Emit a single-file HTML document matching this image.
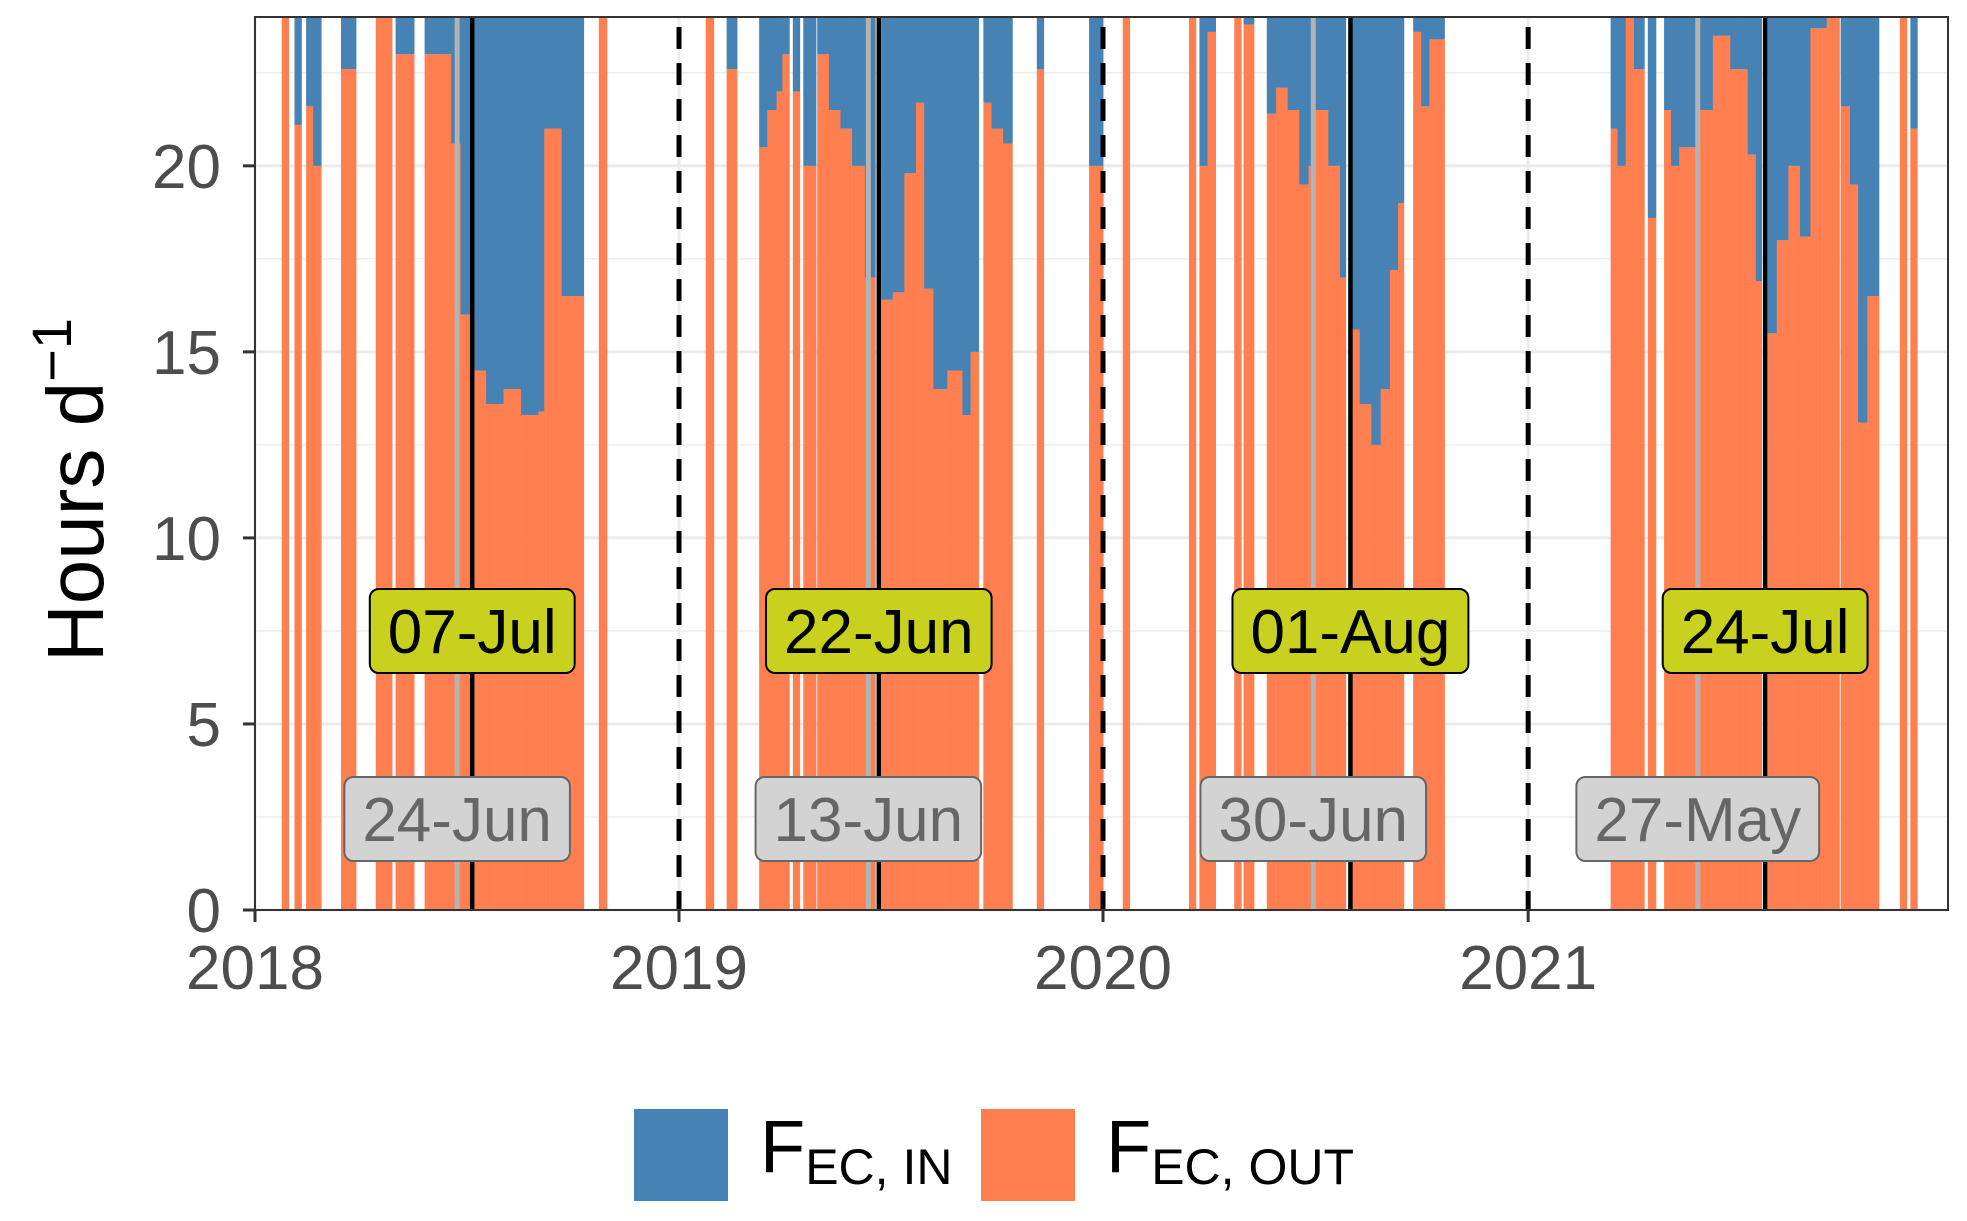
<!DOCTYPE html>
<html><head><meta charset="utf-8"><style>
html,body{margin:0;padding:0;background:#fff;}
svg{display:block;font-family:"Liberation Sans",sans-serif;}
</style></head><body>
<svg id="chart" width="1967" height="1221" viewBox="0 0 1967 1221" xmlns="http://www.w3.org/2000/svg">
<g id="grid"></g>
<g id="bars"></g>
<g id="vlines"></g>
<g id="labels"></g>
<rect x="255" y="17" width="1693" height="893" fill="none" stroke="#333" stroke-width="2"/>
<g id="axes"></g>
<text transform="translate(103,490) rotate(-90)" text-anchor="middle" font-size="80" fill="#000">Hours d<tspan dy="-32" font-size="56">−1</tspan></text>
<g>
<rect x="634" y="1109" width="94" height="92" fill="#4682b4"/>
<text x="760" y="1172" font-size="74" fill="#000">F<tspan dy="12" font-size="50">EC, IN</tspan></text>
<rect x="981" y="1109" width="94" height="92" fill="#ff7f50"/>
<text x="1106" y="1172" font-size="74" fill="#000">F<tspan dy="12" font-size="50">EC, OUT</tspan></text>
</g>
</svg>
<script>
// data: segments of daily values (day-of-year ranges) with hours OUT; IN = 24 - OUT
const segYear = [2018,2018,2018,2018,2018,2018,2018,2018,2018,2018,2018,2018,2018,2018,2018,2018,2018,2018,2018,2018,
 2019,2019,2019,2019,2019,2019,2019,2019,2019,2019,2019,2019,2019,2019,2019,2019,2019,2019,2019,2019,2019,2019,2019,2019,2019,2019,2019,2019,2019,
 2020,2020,2020,2020,2020,2020,2020,2020,2020,2020,2020,2020,2020,2020,2020,2020,2020,2020,2020,2020,2020,2020,2020,2020,2020,2020,
 2021,2021,2021,2021,2021,2021,2021,2021,2021,2021,2021,2021,2021,2021,2021,2021,2021,2021,2021,2021,2021,2021,2021,2021,2021,2021];
const segFrom = [24,35,45,51,75,105,122,147,170,178,188,200,215,230,245,250,265,297,0,0,
 24,42,70,77,85,90,99,108,120,130,140,150,161,175,185,195,205,212,220,232,245,252,263,270,280,309,354,0,0,
 18,75,84,91,114,122,142,150,160,170,178,184,195,205,215,222,232,240,248,255,268,275,282,0,0,0,
 72,78,85,92,104,118,124,131,149,160,175,190,197,207,215,225,235,244,258,270,278,285,293,321,330,0];
const segTo = [29,40,50,57,87,118,137,169,177,187,199,214,229,244,249,264,283,303,0,0,
 30,50,76,84,89,95,104,118,129,139,149,160,169,184,194,204,211,219,231,244,251,258,269,279,287,314,365,0,0,
 23,80,90,97,119,130,149,159,169,177,183,194,204,209,221,231,239,247,254,259,274,281,294,0,0,0,
 77,84,91,100,110,123,130,148,159,174,189,196,201,214,224,234,243,257,268,277,284,292,302,326,335,0];
const segOut = [24,21.1,21.6,20,22.6,24,23,23,20.6,16,14.5,13.6,14,13.3,13.4,21,16.5,24,0,0,
 24,22.6,20.5,21.5,22,23,22,20,23,21.5,21,20,17,16.4,16.6,19.8,21.7,16.7,14,14.5,13.3,15,21.7,21,20.6,22.6,20,0,0,
 24,24,20,23.6,24,23.8,21.4,22.1,21.5,19.5,20,21.5,20,17,15.6,13.6,12.5,14,17.2,19,23.6,21.6,23.4,0,0,0,
 21,20,24,22.6,18.6,21.5,20,20.5,21.5,23.5,22.6,20.3,16.9,15.5,18,20,18.1,23.7,24,21.6,19.5,13.1,16.5,24,21,0];
const yTicks = [0,5,10,15,20];
const xTickYears = [2018,2019,2020,2021];
const peakDates = ["2018-07-07","2019-06-22","2020-08-01","2021-07-24"];
const peakLabels = ["07-Jul","22-Jun","01-Aug","24-Jul"];
const startDates = ["2018-06-24","2019-06-13","2020-06-30","2021-05-27"];
const startLabels = ["24-Jun","13-Jun","30-Jun","27-May"];

const NS="http://www.w3.org/2000/svg";
const X0=255, X1=1948, Y0=910, Y1=17;
const t0=Date.UTC(2018,0,1), dayPx=424/365;
function xDate(ms){return X0+(ms-t0)/86400000*dayPx;}
function xDay(year,doy){return xDate(Date.UTC(year,0,1)+(doy-1)*86400000);}
function y(v){return Y0-(v/24)*(Y0-Y1);}
function mk(tag,attrs,parent){const e=document.createElementNS(NS,tag);for(const k in attrs)e.setAttribute(k,attrs[k]);parent.appendChild(e);return e;}
function parseD(s){const p=s.split('-');return Date.UTC(+p[0],+p[1]-1,+p[2]);}

const grid=document.getElementById('grid');
for(let v=2.5;v<24;v+=5){const l=mk('line',{x1:X0,x2:X1,y1:y(v),y2:y(v),stroke:'#ebebeb','stroke-width':1.3},grid);

}
yTicks.forEach(v=>{const l=mk('line',{x1:X0,x2:X1,y1:y(v),y2:y(v),stroke:'#ebebeb','stroke-width':3},grid);

});
xTickYears.forEach(yr=>{const xx=xDate(Date.UTC(yr,0,1));const l=mk('line',{x1:xx,x2:xx,y1:Y1,y2:Y0,stroke:'#ebebeb','stroke-width':3},grid);

});

const bars=document.getElementById('bars');
for(let i=0;i<segYear.length;i++){
  if(segTo[i]<=0)continue;
  for(let d=segFrom[i];d<=segTo[i];d++){
    const xx=xDay(segYear[i],d);const out=segOut[i];
    const o=mk('rect',{x:xx,y:y(out),width:dayPx+0.35,height:Y0-y(out),fill:'#ff7f50'},bars);
    
    
    if(out<24){const b=mk('rect',{x:xx,y:y(24),width:dayPx+0.35,height:y(out)-y(24),fill:'#4682b4'},bars);
    
    }
  }
}

const vl=document.getElementById('vlines');
xTickYears.slice(1).forEach(yr=>{const xx=xDate(Date.UTC(yr,0,1));const l=mk('line',{x1:xx,x2:xx,y1:Y1+10,y2:Y0,stroke:'#000','stroke-width':5,'stroke-dasharray':'22,14'},vl);

});
startDates.forEach(s=>{const xx=xDate(parseD(s));const l=mk('line',{x1:xx,x2:xx,y1:Y1,y2:Y0,stroke:'#b3b3b3','stroke-width':5},vl);

});
peakDates.forEach(s=>{const xx=xDate(parseD(s));const l=mk('line',{x1:xx,x2:xx,y1:Y1,y2:Y0,stroke:'#000','stroke-width':4.5},vl);

});

const lab=document.getElementById('labels');
function label(xc,yc,txt,fill,stroke,color,name){
  const r=mk('rect',{x:xc,y:yc-42,width:10,height:84,rx:9,fill:fill,stroke:stroke,'stroke-width':2},lab);
  
  
  const t=mk('text',{x:xc,y:yc+22,'text-anchor':'middle','font-size':62,fill:color},lab);
  
  
  t.textContent=txt;
  let w=t.getComputedTextLength()+36;
  if(!w||w<60)w=txt.length*33+36;
  r.setAttribute('x',xc-w/2);r.setAttribute('width',w);
}
peakDates.forEach((s,i)=>label(xDate(parseD(s)),631,peakLabels[i],'#c8d21e','#000','#000','peak-label'));
startDates.forEach((s,i)=>label(xDate(parseD(s)),819,startLabels[i],'#d3d3d3','#666','#666','start-label'));

const ax=document.getElementById('axes');
yTicks.forEach(v=>{
  const l=mk('line',{x1:X0-12,x2:X0,y1:y(v),y2:y(v),stroke:'#333','stroke-width':3},ax);
  
  
  const t=mk('text',{x:X0-34,y:y(v)+22,'text-anchor':'end','font-size':62,fill:'#4d4d4d'},ax);
  
  
  t.textContent=v;
});
xTickYears.forEach(yr=>{
  const xx=xDate(Date.UTC(yr,0,1));
  const l=mk('line',{x1:xx,x2:xx,y1:Y0,y2:Y0+12,stroke:'#333','stroke-width':3},ax);
  
  
  const t=mk('text',{x:xx,y:989,'text-anchor':'middle','font-size':62,fill:'#4d4d4d'},ax);
  
  
  t.textContent=yr;
});
</script>
</body></html>
